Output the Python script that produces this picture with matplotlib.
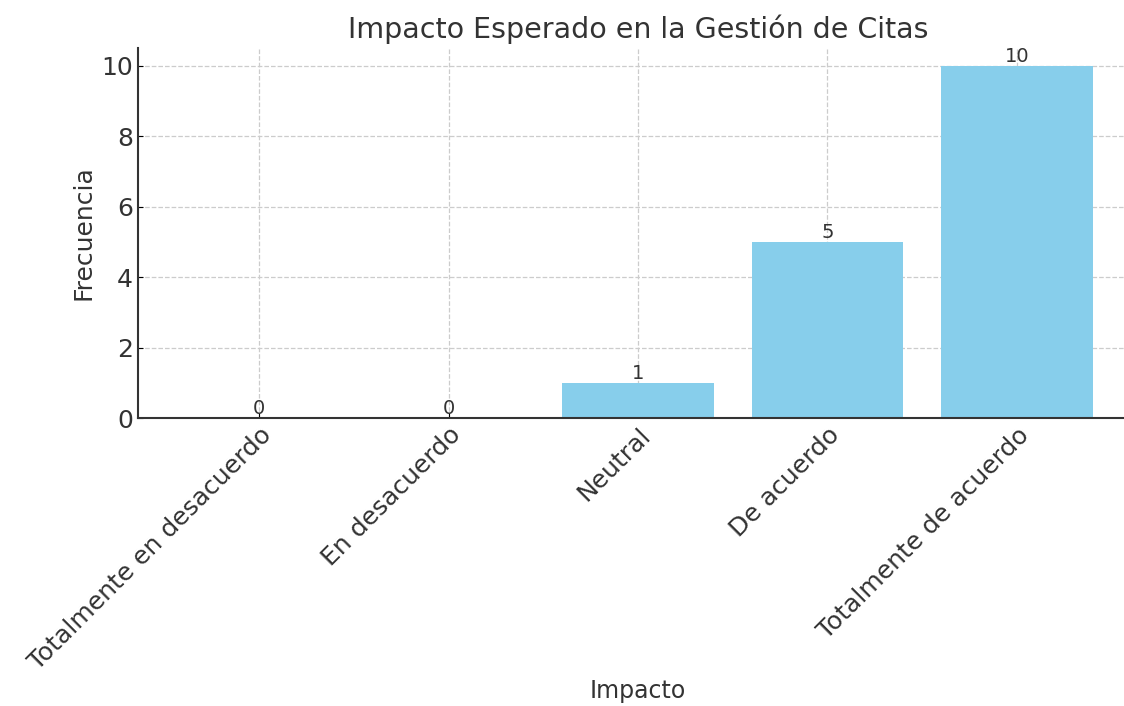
import matplotlib
matplotlib.use("Agg")
import matplotlib.pyplot as plt
import numpy as np

categorias = ["Totalmente en desacuerdo", "En desacuerdo", "Neutral",
              "De acuerdo", "Totalmente de acuerdo"]
frecuencia = [0, 0, 1, 5, 10]

plt.rcParams['font.family'] = ['DejaVu Sans']
gris = '#333333'

fig = plt.figure(figsize=(11.24, 7.06), dpi=100)
ax = fig.add_axes([138/1124, 1-418/706, 1000/1124, 370/706])

x = np.arange(len(categorias))
barras = ax.bar(x, frecuencia, color='skyblue', width=0.8)

for b, v in zip(barras, frecuencia):
    ax.text(b.get_x() + b.get_width()/2, b.get_height(), str(v),
            ha='center', va='bottom', fontsize=14, color=gris)

ax.set_xticks(x)
ax.set_xticklabels(categorias, rotation=45, ha='right', rotation_mode='anchor',
                   fontsize=18, color=gris)
ax.tick_params(axis='y', labelsize=18, labelcolor=gris, direction='in')
ax.tick_params(axis='x', direction='in')
ax.set_xlabel("Impacto", fontsize=17, color=gris, labelpad=3)
ax.set_ylabel("Frecuencia", fontsize=18, color=gris)
ax.set_title("Impacto Esperado en la Gestión de Citas", fontsize=20.5, color=gris, pad=7)

ax.grid(True, linestyle='--', color='#cccccc', linewidth=0.9)
ax.set_axisbelow(True)
ax.spines['top'].set_visible(False)
ax.spines['right'].set_visible(False)
ax.spines['left'].set_color(gris)
ax.spines['bottom'].set_color(gris)
ax.spines['left'].set_linewidth(1.5)
ax.spines['bottom'].set_linewidth(1.5)

fig.savefig("out.png", dpi=100)
